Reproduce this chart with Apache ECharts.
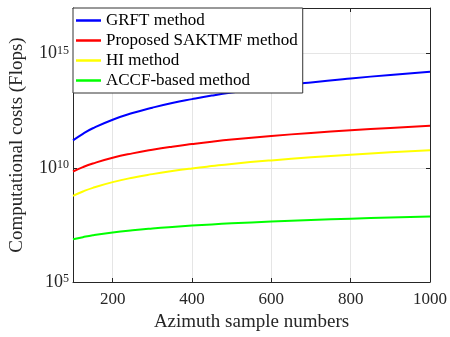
<!DOCTYPE html>
<html>
<head>
<meta charset="utf-8">
<script src="https://cdn.jsdelivr.net/npm/echarts@6/dist/echarts.min.js"></script>
<style>
  html, body { margin: 0; padding: 0; background: #fff; }
  #chart { width: 450px; height: 337px; }
</style>
</head>
<body>
<div id="chart"></div>
<script>
const azimuth = [100, 125, 150, 200, 250, 300, 350, 400, 450, 500, 600, 700, 800, 900, 1000];

// computational costs (Flops)
const grftCost   = [1.6e11, 3.1e11, 5.4e11, 1.28e12, 2.5e12, 4.3e12, 6.9e12, 1.02e13, 1.46e13, 2.0e13, 3.46e13, 5.5e13, 8.2e13, 1.17e14, 1.6e14];
const saktmfCost = [6.9e9, 1.08e10, 1.55e10, 2.76e10, 4.3e10, 6.2e10, 8.45e10, 1.1e11, 1.4e11, 1.73e11, 2.48e11, 3.38e11, 4.42e11, 5.6e11, 6.9e11];
const hiCost     = [5.9e8, 9.2e8, 1.33e9, 2.36e9, 3.7e9, 5.3e9, 7.2e9, 9.4e9, 1.19e10, 1.48e10, 2.12e10, 2.9e10, 3.78e10, 4.78e10, 5.9e10];
const accfCost   = [7.4e6, 9.2e6, 1.11e7, 1.48e7, 1.85e7, 2.22e7, 2.59e7, 2.96e7, 3.33e7, 3.7e7, 4.44e7, 5.18e7, 5.92e7, 6.66e7, 7.4e7];

const seriesNames = ['GRFT method', 'Proposed SAKTMF method', 'HI method', 'ACCF-based method'];
const seriesColors = ['#0000ff', '#ff0000', '#ffff00', '#00ff00'];
const xTicks = [200, 400, 600, 800, 1000];
const yTickExps = [5, 10, 15];

const font = 'Liberation Serif';
const axisColor = '#262626';

const chart = echarts.init(document.getElementById('chart'));

const makeSeries = (name, vals, color) => ({
  name,
  type: 'line',
  data: azimuth.map((x, i) => [x, vals[i]]),
  smooth: true,
  symbol: 'none',
  lineStyle: {width: 2, color},
  itemStyle: {color}
});

chart.setOption({
  animation: false,
  grid: {left: 72, right: 18, top: 8, bottom: 55},
  legend: {
    orient: 'vertical',
    left: 73, top: 8,
    padding: [4, 5, 4, 3],
    itemGap: 3,
    itemWidth: 25,
    itemHeight: 2.5,
    icon: 'rect',
    backgroundColor: '#fff',
    borderColor: '#333',
    borderWidth: 1,
    textStyle: {fontFamily: font, fontSize: 17, color: '#000', lineHeight: 17},
    data: seriesNames
  },
  xAxis: [{
    type: 'value',
    min: 100, max: 1000,
    name: 'Azimuth sample numbers',
    nameLocation: 'middle',
    nameGap: 31,
    nameTextStyle: {fontFamily: font, fontSize: 19, color: axisColor},
    axisLine: {lineStyle: {color: axisColor, width: 1}},
    axisTick: {inside: true, length: 4, customValues: xTicks, lineStyle: {color: axisColor}},
    axisLabel: {customValues: xTicks, formatter: v => String(v), fontFamily: font, fontSize: 17, color: axisColor, margin: 9},
    splitLine: {lineStyle: {color: '#e5e5e5'}}
  }, {
    type: 'value',
    position: 'top',
    min: 100, max: 1000,
    axisLine: {lineStyle: {color: axisColor, width: 1}},
    axisTick: {inside: true, length: 4, customValues: xTicks, lineStyle: {color: axisColor}},
    axisLabel: {show: false},
    splitLine: {show: false}
  }],
  yAxis: [{
    type: 'log',
    logBase: 1e5,
    min: 1e5, max: 1e17,
    name: 'Computational costs (Flops)',
    nameLocation: 'middle',
    nameGap: 46,
    nameTextStyle: {fontFamily: font, fontSize: 19, color: axisColor},
    axisLine: {lineStyle: {color: axisColor, width: 1}},
    axisTick: {inside: true, length: 4, lineStyle: {color: axisColor}},
    axisLabel: {
      margin: 4,
      formatter: v => {
        const e = Math.round(Math.log10(v));
        return yTickExps.includes(e) ? '{b|10}{e|' + e + '}' : '';
      },
      rich: {
        b: {fontFamily: font, fontSize: 18, color: axisColor},
        e: {fontFamily: font, fontSize: 12, color: axisColor, verticalAlign: 'top'}
      }
    },
    splitLine: {lineStyle: {color: '#e5e5e5'}}
  }, {
    type: 'log',
    logBase: 1e5,
    min: 1e5, max: 1e17,
    position: 'right',
    axisLine: {lineStyle: {color: axisColor, width: 1}},
    axisTick: {inside: true, length: 4, lineStyle: {color: axisColor}},
    axisLabel: {show: false},
    splitLine: {show: false}
  }],
  series: [
    makeSeries(seriesNames[0], grftCost, seriesColors[0]),
    makeSeries(seriesNames[1], saktmfCost, seriesColors[1]),
    makeSeries(seriesNames[2], hiCost, seriesColors[2]),
    makeSeries(seriesNames[3], accfCost, seriesColors[3])
  ]
});
</script>
</body>
</html>
